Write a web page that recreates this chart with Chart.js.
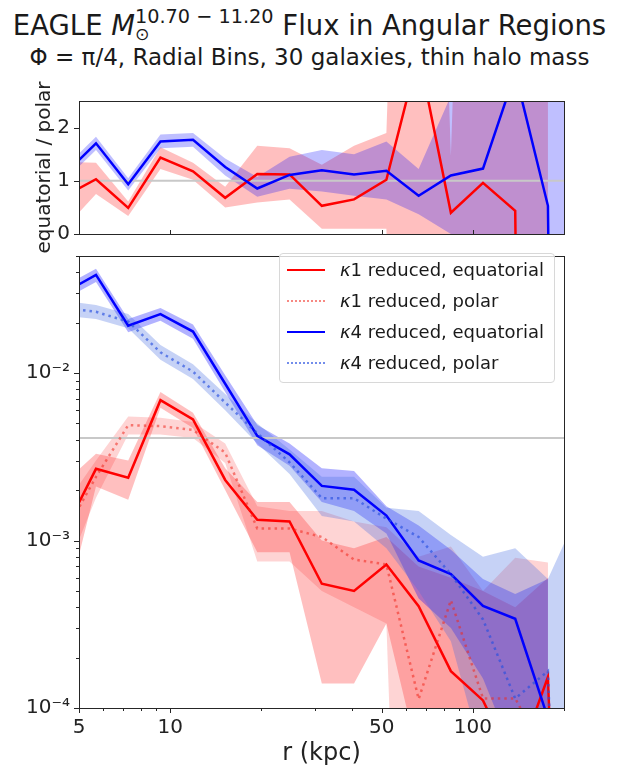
<!DOCTYPE html>
<html>
<head>
<meta charset="utf-8">
<script src="https://cdn.jsdelivr.net/npm/chart.js@4.4.1/dist/chart.umd.min.js"></script>
<style>
  html, body { margin: 0; padding: 0; background: #fff; }
  body { width: 619px; height: 766px; position: relative; overflow: hidden;
         font-family: 'DejaVu Sans', sans-serif; color: #1a1a1a; }
  canvas { position: absolute; left: 0; }
  #ratio { top: 80px; }
  #flux { top: 235px; }
  .txt { position: absolute; left: 0; width: 619px; text-align: center; white-space: nowrap; line-height: 1; }
  #title { top: 12px; font-size: 27.5px; }
  #subtitle { top: 46px; font-size: 23px; }
  .scripts { position: relative; display: inline-block; font-size: 0.7em; }
  .scripts .sup { position: relative; top: -0.6em; }
  .scripts .sub { position: absolute; left: 0; top: 0.4em; font-size: 0.9em; }
  #legend { position: absolute; left: 279px; top: 253px; width: 276px; height: 130px;
            border: 1px solid #d8d8d8; border-radius: 4px; background: rgba(255,255,255,0.8);
            box-sizing: border-box; font-size: 18px; }
  .row { position: absolute; left: 0; height: 30px; line-height: 30px; width: 100%; }
  .swatch { position: absolute; left: 7px; top: 14px; width: 38px; height: 0; }
  .lab { position: absolute; left: 60px; top: 0; }
</style>
</head>
<body>
<div id="title" class="txt">EAGLE <i>M</i><span class="scripts"><span class="sup">10.70 − 11.20</span><span class="sub">⊙</span></span> Flux in Angular Regions</div>
<div id="subtitle" class="txt">Φ = π/4, Radial Bins, 30 galaxies, thin halo mass</div>
<canvas id="ratio" width="619" height="175"></canvas>
<canvas id="flux" width="619" height="531"></canvas>
<div id="legend"></div>
<script>
// radial bin centres (kpc); first and last bins sit just outside the axis range
const r = [4.45, 5.69, 7.27, 9.29, 11.9, 15.2, 19.4, 24.8, 31.7, 40.5, 51.8, 66.2, 84.6, 108, 138, 177, 226];

// kappa1 reduced, equatorial
const k1Eq   = [1.11e-3, 2.68e-3, 2.37e-3, 6.89e-3, 5.29e-3, 2.3e-3, 1.33e-3, 1.3e-3, 5.52e-4, 5.0e-4, 7.2e-4, 4.05e-4, 1.66e-4, 1.11e-4, 4.4e-5, 1.53e-4, 1e-9];
const k1EqLo = [3.5e-4, 2.1e-3, 1.75e-3, 6.2e-3, 4.7e-3, 2.0e-3, 8.5e-4, 8.5e-4, 1.4e-4, 1.4e-4, 3.2e-4, 5e-5, 1e-5, 1e-5, 1e-6, 1e-6, null];
const k1EqHi = [2.2e-3, 3.3e-3, 3.0e-3, 7.7e-3, 5.8e-3, 2.7e-3, 1.7e-3, 1.7e-3, 1.0e-3, 9e-4, 1.05e-3, 7e-4, 6e-4, 5e-4, 4e-4, 6e-4, null];
// kappa1 reduced, polar
const k1Pol   = [1.08e-3, 2.4e-3, 4.89e-3, 4.82e-3, 4.57e-3, 3.35e-3, 1.18e-3, 1.18e-3, 1.05e-3, 7.7e-4, 7.2e-4, 1.13e-4, 4.4e-4, 1.14e-4, 1.14e-4, 5e-5, 1e-9];
const k1PolLo = [6e-4, 1.8e-3, 4.3e-3, 4.3e-3, 4.1e-3, 2.9e-3, 7.5e-4, 7.5e-4, 5e-4, 4e-4, 3.2e-4, 1e-9, 1e-9, 1e-9, 1e-9, 1e-9, null];
const k1PolHi = [1.6e-3, 3e-3, 5.5e-3, 5.4e-3, 5.1e-3, 3.8e-3, 1.6e-3, 1.5e-3, 1.5e-3, 1.3e-3, 1.2e-3, 8e-4, 9.2e-4, 5e-4, 7.9e-4, 7.4e-4, null];
// kappa4 reduced, equatorial
const k4Eq   = [0.0301, 0.0386, 0.0192, 0.0225, 0.0177, 0.00863, 0.00422, 0.00327, 0.00212, 0.00201, 0.00141, 7.6e-4, 6.3e-4, 4.07e-4, 3.41e-4, 8.7e-5, 1e-9];
const k4EqLo = [0.0275, 0.035, 0.0175, 0.0205, 0.016, 0.0077, 0.0037, 0.0028, 0.0017, 0.0015, 0.0011, 4.5e-4, 3e-4, 1.5e-4, 5e-5, 1e-5, null];
const k4EqHi = [0.033, 0.042, 0.021, 0.0245, 0.0195, 0.0097, 0.0049, 0.0038, 0.0027, 0.0026, 0.0016, 1.23e-3, 8.8e-4, 5.9e-4, 4.8e-4, 5.9e-4, null];
// kappa4 reduced, polar
const k4Pol   = [0.0245, 0.0232, 0.0203, 0.0133, 0.0102, 0.00667, 0.00437, 0.00293, 0.00179, 0.00179, 0.00135, 0.00105, 6.3e-4, 3.38e-4, 1.14e-4, 1.66e-4, 1e-9];
const k4PolLo = [0.022, 0.021, 0.0185, 0.012, 0.0092, 0.006, 0.0038, 0.0025, 0.0014, 0.0013, 9e-4, 5e-4, 2.5e-4, 5e-5, 1e-5, 1e-5, 1e-9];
const k4PolHi = [0.027, 0.0255, 0.0225, 0.0147, 0.0113, 0.0075, 0.005, 0.0035, 0.0024, 0.0024, 0.00157, 0.0015, 0.00108, 8e-4, 9e-4, 5.9e-4, 1.55e-3];

// equatorial / polar ratios (top panel)
const ratioK1   = [0.70, 1.03, 0.49, 1.435, 1.18, 0.68, 1.13, 1.12, 0.53, 0.65, 1.02, 3.4, 0.4, 0.96, 0.435, -50, null];
const ratioK1Lo = [0.09, 0.75, 0.34, 1.22, 1.02, 0.5, 0.59, 0.65, 0.1, 0.1, 0.1, -20, -20, -20, -20, -20, null];
const ratioK1Hi = [1.36, 1.34, 0.61, 1.63, 1.34, 0.89, 1.66, 1.61, 1.3, 1.66, 1.9, 20, 1.47, 20, 20, 20, null];
const ratioK4   = [1.11, 1.705, 0.935, 1.74, 1.77, 1.26, 0.855, 1.11, 1.2, 1.12, 1.19, 0.72, 1.1, 1.23, 3.03, 0.53, -50];
const ratioK4Lo = [0.99, 1.58, 0.82, 1.61, 1.64, 1.1, 0.7, 0.85, 0.8, 0.72, 0.65, 0.37, 0.0, -20, -20, -20, -20];
const ratioK4Hi = [1.23, 1.83, 1.05, 1.87, 1.9, 1.42, 1.07, 1.45, 1.58, 1.5, 1.74, 1.22, 2.6, 20, 20, 20, 20];

const ratioRef = 1;
const fluxRef = 0.0041;

const legendLabels = ['κ1 reduced, equatorial', 'κ1 reduced, polar', 'κ4 reduced, equatorial', 'κ4 reduced, polar'];
const lineColors = ['#ff0000', 'rgba(240,40,30,0.55)', '#0000ff', 'rgba(40,80,225,0.65)'];
const lineDotted = [false, true, false, true];

const xMajor = [5, 10, 50, 100];
const xMinor = [6, 7, 8, 9, 20, 30, 40, 60, 70, 80, 90, 200];
const ratioTicks = [0, 1, 2];
const fluxMajor = [1e-4, 1e-3, 1e-2];
const fluxLabels = ['10⁻⁴', '10⁻³', '10⁻²'];
const fluxMinor = [];
[1e-4, 1e-3, 1e-2].forEach(d => { for (let k = 2; k <= 9; k++) if (k * d <= 0.05) fluxMinor.push(k * d); });

Chart.defaults.font.family = "'DejaVu Sans', sans-serif";
Chart.defaults.color = '#222';

function pts(ys) { return r.map((x, i) => ({ x: x, y: ys[i] })); }

function band(lo, hi, color) {
  return [
    { data: pts(lo), borderWidth: 0, pointRadius: 0, fill: false },
    { data: pts(hi), borderWidth: 0, pointRadius: 0, fill: '-1', backgroundColor: color }
  ];
}

function line(ys, k) {
  return {
    data: pts(ys), borderColor: lineColors[k], borderWidth: 2.5,
    borderDash: lineDotted[k] ? [2.5, 4] : [], pointRadius: 0, fill: false
  };
}

function refLine(v) {
  return { data: r.map(x => ({ x: x, y: v })), borderColor: '#c8c8c8', borderWidth: 2, pointRadius: 0, fill: false };
}

// frame + matplotlib-like tick marks
function makeFrame(xTicks, yTicks) {
  return {
    id: 'frame',
    afterDraw(chart) {
      const { ctx, chartArea: a } = chart;
      const xs = chart.scales.x, ys = chart.scales.y;
      ctx.save();
      ctx.strokeStyle = '#262626';
      ctx.lineWidth = 1;
      ctx.beginPath();
      xTicks.forEach(([vals, len]) => vals.forEach(v => {
        const p = Math.round(xs.getPixelForValue(v)) + 0.5;
        ctx.moveTo(p, a.bottom); ctx.lineTo(p, a.bottom + len);
      }));
      yTicks.forEach(([vals, len]) => vals.forEach(v => {
        const p = Math.round(ys.getPixelForValue(v)) + 0.5;
        ctx.moveTo(a.left, p); ctx.lineTo(a.left - len, p);
      }));
      ctx.stroke();
      ctx.strokeRect(Math.round(a.left) + 0.5, Math.round(a.top) + 0.5,
                     Math.round(a.right - a.left), Math.round(a.bottom - a.top));
      ctx.restore();
    }
  };
}

function ordered(sets) { sets.forEach((d, i) => { d.order = -i; }); return sets; }

// top panel: ratio
const ratioSets = ordered([
  ...band(ratioK1Lo, ratioK1Hi, 'rgba(255,0,0,0.25)'),
  ...band(ratioK4Lo, ratioK4Hi, 'rgba(0,0,255,0.25)'),
  refLine(ratioRef),
  line(ratioK1, 0),
  line(ratioK4, 2)
]);

new Chart(document.getElementById('ratio'), {
  type: 'line',
  data: { datasets: ratioSets },
  options: {
    responsive: false, animation: false,
    layout: { padding: { top: 9, right: 55, bottom: 12, left: 0 } },
    plugins: { legend: { display: false }, tooltip: { enabled: false } },
    elements: { line: { tension: 0 } },
    scales: {
      x: { type: 'logarithmic', min: 5, max: 200, display: false },
      y: {
        min: 0, max: 2.5,
        afterBuildTicks: s => { s.ticks = ratioTicks.map(v => ({ value: v })); },
        afterFit: s => { s.width = 79; },
        grid: { display: false, drawTicks: false }, border: { display: false },
        ticks: { font: { size: 20 }, padding: 9 },
        title: { display: true, text: 'equatorial / polar', font: { size: 20 }, padding: { top: 33, bottom: 0 } }
      }
    }
  },
  plugins: [makeFrame([[xMajor, -4]], [[ratioTicks, 5]])]
});

// bottom panel: flux
const fluxSets = ordered([
  ...band(k1EqLo, k1EqHi, 'rgba(255,0,0,0.25)'),
  ...band(k1PolLo, k1PolHi, 'rgba(250,40,40,0.2)'),
  ...band(k4EqLo, k4EqHi, 'rgba(0,0,255,0.3)'),
  ...band(k4PolLo, k4PolHi, 'rgba(65,105,225,0.3)'),
  refLine(fluxRef),
  line(k1Eq, 0),
  line(k1Pol, 1),
  line(k4Eq, 2),
  line(k4Pol, 3)
]);

new Chart(document.getElementById('flux'), {
  type: 'line',
  data: { datasets: fluxSets },
  options: {
    responsive: false, animation: false,
    layout: { padding: { top: 8, right: 55, bottom: 0, left: 0 } },
    plugins: { legend: { display: false }, tooltip: { enabled: false } },
    elements: { line: { tension: 0 } },
    scales: {
      x: {
        type: 'logarithmic', min: 5, max: 200,
        afterBuildTicks: s => { s.ticks = xMajor.map(v => ({ value: v })); },
        afterFit: s => { s.height = 58; },
        grid: { display: false, drawTicks: false }, border: { display: false },
        ticks: { callback: (v, i) => String(xMajor[i]), font: { size: 20 }, padding: 8, maxRotation: 0, autoSkip: false },
        title: { display: true, text: 'r (kpc)', font: { size: 24, lineHeight: 1 }, padding: 0 }
      },
      y: {
        type: 'logarithmic', min: 1e-4, max: 0.05,
        afterBuildTicks: s => { s.ticks = fluxMajor.map(v => ({ value: v })); },
        afterFit: s => { s.width = 79; },
        grid: { display: false, drawTicks: false }, border: { display: false },
        ticks: { callback: (v, i) => fluxLabels[i], font: { size: 20 }, padding: 9 }
      }
    }
  },
  plugins: [makeFrame([[xMajor, 5], [xMinor, 3]], [[fluxMajor, 5], [fluxMinor, 3]])]
});

// legend
const leg = document.getElementById('legend');
const rowTop = [1, 32, 63, 94];
legendLabels.forEach((t, k) => {
  const row = document.createElement('div');
  row.className = 'row';
  row.style.top = rowTop[k] + 'px';
  const sw = document.createElement('div');
  sw.className = 'swatch';
  sw.style.borderTop = (lineDotted[k] ? '2px dotted ' : '2px solid ') + lineColors[k];
  const lab = document.createElement('div');
  lab.className = 'lab';
  lab.innerHTML = '<i>' + t.charAt(0) + '</i>' + t.slice(1);
  row.appendChild(sw);
  row.appendChild(lab);
  leg.appendChild(row);
});
</script>
</body>
</html>
